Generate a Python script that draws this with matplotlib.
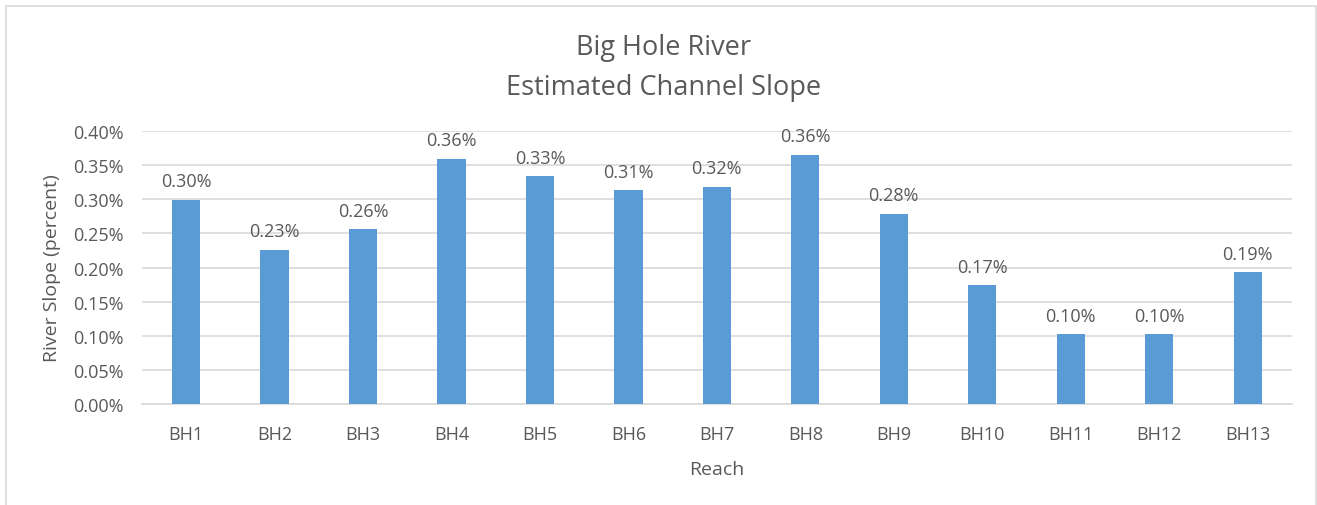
import matplotlib
matplotlib.use("Agg")
import matplotlib.pyplot as plt
from matplotlib.ticker import FuncFormatter
from matplotlib.patches import Rectangle

# reach slope values (percent)
reaches = ["BH1", "BH2", "BH3", "BH4", "BH5", "BH6", "BH7",
           "BH8", "BH9", "BH10", "BH11", "BH12", "BH13"]
slope = [0.299, 0.226, 0.256, 0.359, 0.334, 0.313, 0.318,
         0.365, 0.279, 0.174, 0.102, 0.102, 0.193]
labels = ["0.30%", "0.23%", "0.26%", "0.36%", "0.33%", "0.31%", "0.32%",
          "0.36%", "0.28%", "0.17%", "0.10%", "0.10%", "0.19%"]
yticks = [0.0, 0.05, 0.10, 0.15, 0.20, 0.25, 0.30, 0.35, 0.40]

txt = "#595959"
plt.rcParams['font.family'] = ['Open Sans', 'DejaVu Sans']

fig = plt.figure(figsize=(13.17, 5.06), dpi=100)
ax = fig.add_axes([0.1076, 0.1996, 0.8734, 0.5395])

x = range(len(reaches))
ax.bar(x, slope, width=0.32, color="#5B9BD5", zorder=3)
for i, v in enumerate(slope):
    ax.text(i, v + 0.014, labels[i], ha="center", va="bottom",
            fontsize=13, color=txt)

ax.set_xlim(-0.5, len(reaches) - 0.5)
ax.set_ylim(0, 0.40)
ax.set_yticks(yticks)
ax.yaxis.set_major_formatter(FuncFormatter(lambda v, p: "%.2f%%" % v))
ax.set_xticks(list(x))
ax.set_xticklabels(reaches)
ax.tick_params(axis="both", length=0, labelsize=13, labelcolor=txt)
ax.tick_params(axis="x", pad=15)
ax.tick_params(axis="y", pad=13)
ax.grid(axis="y", color="#D9D9D9", linewidth=1.2, zorder=0)
for s in ["top", "right", "left"]:
    ax.spines[s].set_visible(False)
ax.spines["bottom"].set_color("#D9D9D9")
ax.spines["bottom"].set_linewidth(1.2)

ax.set_xlabel("Reach", fontsize=14, color=txt, labelpad=12)
ax.set_ylabel("River Slope (percent)", fontsize=14, color=txt, labelpad=9)

fig.text(0.5035, 0.905, "Big Hole River", ha="center", va="center",
         fontsize=19.5, color=txt)
fig.text(0.5035, 0.827, "Estimated Channel Slope", ha="center", va="center",
         fontsize=19.5, color=txt)

# chart border
fig.patches.append(Rectangle((6 / 1317, -0.01), 1310 / 1317, 1.0 - 7 / 506 + 0.01,
                             transform=fig.transFigure, fill=False,
                             edgecolor="#D9D9D9", linewidth=1.2))

fig.savefig("out.png", dpi=100)
